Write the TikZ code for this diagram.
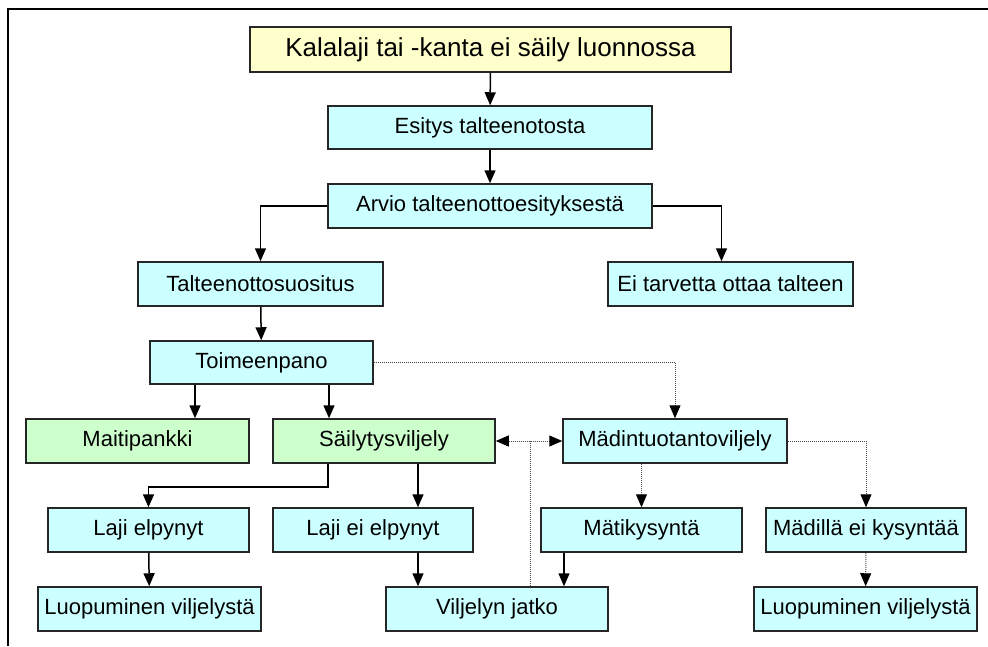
\documentclass[tikz,border=0pt]{standalone}
\usepackage{fontspec}
\setmainfont{Liberation Sans}
\usetikzlibrary{arrows.meta}
\definecolor{boxcyan}{HTML}{CCFFFF}
\definecolor{boxyellow}{HTML}{FFFFCC}
\definecolor{boxgreen}{HTML}{CCFFCC}
\tikzset{box/.style={draw=black!85, line width=1.5pt, fill=boxcyan, minimum height=44pt, inner sep=0pt, font=\fontsize{22}{26}\selectfont},
         arr/.style={black, line width=1.5pt, -{Triangle[width=11pt,length=13pt]}},
         dots/.style={black!70, line width=1pt, densely dotted, -{Triangle[width=11pt,length=13pt,color=black]}}}

\begin{document}
\begin{tikzpicture}[x=1pt,y=-1pt]
     \useasboundingbox (0,0) rectangle (988,646);
     \draw[line width=2pt] (8,646) -- (8,9) -- (988,9);
     % upper part
     \node[box, fill=boxyellow, minimum width=481pt, minimum height=45pt, font=\fontsize{26}{30}\selectfont] (kanta) at (490.5,49.5) {Kalalaji tai -kanta ei säily luonnossa};
     \node[box, minimum width=324pt, minimum height=43pt] (esitys)  at (490,127.5) {Esitys talteenotosta};
     \node[box, minimum width=324pt] (arvio)   at (490,206)   {Arvio talteenottoesityksestä};
     \node[box, minimum width=245pt] (suositus) at (260.5,284) {Talteenottosuositus};
     \node[box, minimum width=245pt] (eitarve) at (730.5,284) {Ei tarvetta ottaa talteen};
     \node[box, minimum width=223pt, minimum height=43pt] (toimeen) at (261.5,362.5) {Toimeenpano};
     % middle row
     \node[box, fill=boxgreen, minimum width=223pt] (maito)  at (137.5,441) {Maitipankki};
     \node[box, fill=boxgreen, minimum width=222pt] (sailyt) at (384,441)   {Säilytysviljely};
     \node[box, minimum width=224pt] (madint) at (675,441) {Mädintuotantoviljely};
     % lower rows
     \node[box, minimum width=201pt] (elpyi)   at (148.5,530) {Laji elpynyt};
     \node[box, minimum width=200pt] (eielpyi) at (373,530)   {Laji ei elpynyt};
     \node[box, minimum width=201pt] (kysynta) at (641.5,530) {Mätikysyntä};
     \node[box, minimum width=200pt] (eikysy)  at (866,530)   {Mädillä ei kysyntää};
     \node[box, minimum width=223pt] (luop1)  at (149.5,609) {Luopuminen viljelystä};
     \node[box, minimum width=222pt] (jatko)  at (497,609)   {Viljelyn jatko};
     \node[box, minimum width=223pt] (luop2)  at (865.5,609) {Luopuminen viljelystä};
     % connectors
     \draw[arr] (kanta) -- (esitys);
     \draw[arr] (esitys) -- (arvio);
     \draw[arr] (arvio.west) -| (suositus.north);
     \draw[arr] (arvio.east) -| ([xshift=-9pt]eitarve.north);
     \draw[arr] (suositus) -- (toimeen);
     \draw[arr] ([xshift=-66.5pt]toimeen.south) -- ([xshift=-66.5pt]toimeen.south |- maito.north);
     \draw[arr] ([xshift=67.5pt]toimeen.south) -- ([xshift=67.5pt]toimeen.south |- sailyt.north);
     \draw[dots] (toimeen.east) -| (madint.north);
     \draw[dots, {Triangle[width=11pt,length=13pt,color=black]}-{Triangle[width=11pt,length=13pt,color=black]}] (sailyt.east) -- (madint.west);
     \draw[black!70, line width=1pt, densely dotted] ([xshift=33pt]jatko.north) -- ([xshift=33pt]jatko.north |- sailyt.east);
     \draw[arr] ([xshift=-56pt]sailyt.south) -- ++(0,23) -| (elpyi.north);
     \draw[arr] ([xshift=34pt]sailyt.south) -- ([xshift=34pt]sailyt.south |- eielpyi.north);
     \draw[arr] (elpyi) -- (luop1);
     \draw[arr] ([xshift=45pt]eielpyi.south) -- ([xshift=45pt]eielpyi.south |- jatko.north);
     \draw[dots] (madint.south -| kysynta.north) -- (kysynta.north);
     \draw[arr] ([xshift=-77.5pt]kysynta.south) -- ([xshift=-77.5pt]kysynta.south |- jatko.north);
     \draw[dots] (madint.east) -| (eikysy.north);
     \draw[dots] (eikysy) -- (luop2);
\end{tikzpicture}
\end{document}
